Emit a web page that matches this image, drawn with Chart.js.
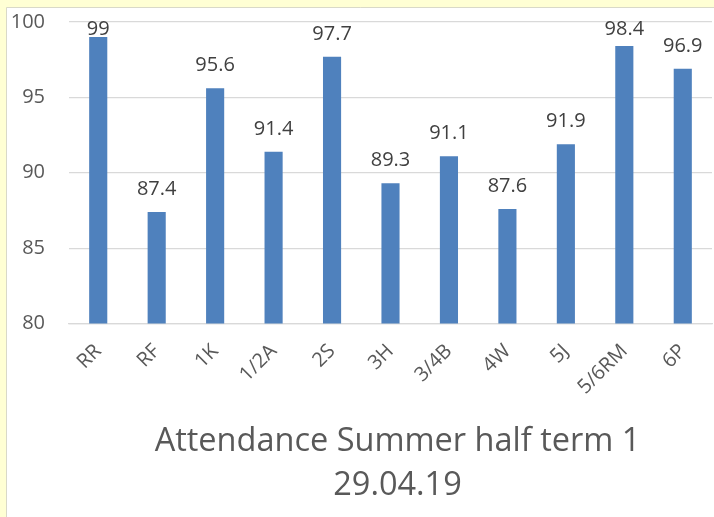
<!DOCTYPE html>
<html>
<head>
<meta charset="utf-8">
<script src="https://cdn.jsdelivr.net/npm/chart.js@4"></script>
<style>
  html, body { margin: 0; padding: 0; background: #fff; }
  #wrap { width: 714px; height: 517px; position: relative; }
</style>
</head>
<body>
<div id="wrap"><canvas id="c" width="714" height="517"></canvas></div>
<script>
const categories = ["RR", "RF", "1K", "1/2A", "2S", "3H", "3/4B", "4W", "5J", "5/6RM", "6P"];
const attendance = [99, 87.4, 95.6, 91.4, 97.7, 89.3, 91.1, 87.6, 91.9, 98.4, 96.9];
const yTicks = [80, 85, 90, 95, 100];
const titleLines = ["Attendance Summer half term 1", "29.04.19"];

const FONT = "'Open Sans', 'Liberation Sans', sans-serif";

const framePlugin = {
  id: 'frame',
  beforeDraw(chart) {
    const ctx = chart.ctx;
    ctx.save();
    ctx.fillStyle = '#FFFFD4';
    ctx.fillRect(0, 0, chart.width, chart.height);
    ctx.fillStyle = '#FFFFFF';
    ctx.fillRect(7, 8, chart.width - 7, chart.height - 8);
    ctx.strokeStyle = '#D9D9C8';
    ctx.lineWidth = 1;
    ctx.beginPath();
    ctx.moveTo(6.5, chart.height);
    ctx.lineTo(6.5, 7.5);
    ctx.lineTo(chart.width, 7.5);
    ctx.stroke();
    ctx.restore();
  }
};

const titleShiftPlugin = {
  id: 'titleShift',
  afterLayout(chart) {
    const tb = chart.titleBlock;
    if (tb) { tb.left += 7; tb.right += 7; }
  }
};

const labelPlugin = {
  id: 'barLabels',
  afterDatasetsDraw(chart) {
    const ctx = chart.ctx;
    const meta = chart.getDatasetMeta(0);
    const ds = chart.data.datasets[0];
    ctx.save();
    ctx.font = "20px " + FONT;
    ctx.fillStyle = '#404040';
    ctx.textAlign = 'center';
    ctx.textBaseline = 'alphabetic';
    meta.data.forEach((bar, i) => {
      const y = Math.max(bar.y - 17, chart.chartArea.top + 13);
      ctx.fillText(String(ds.data[i]), bar.x, y);
    });
    ctx.restore();
  }
};

new Chart(document.getElementById('c'), {
  type: 'bar',
  data: {
    labels: categories,
    datasets: [{
      data: attendance,
      backgroundColor: '#4F81BD',
      borderWidth: 0,
      barPercentage: 0.31,
      categoryPercentage: 1.0
    }]
  },
  options: {
    responsive: false,
    animation: false,
    devicePixelRatio: 1,
    layout: { padding: { top: 22, right: 2, bottom: 0, left: 0 } },
    plugins: {
      legend: { display: false },
      tooltip: { enabled: false },
      title: {
        display: true,
        text: titleLines,
        position: 'bottom',
        fullSize: false,
        color: '#595959',
        font: { family: FONT, size: 32.5, weight: 'normal', lineHeight: 1.33 },
        padding: { top: 17, bottom: 10 }
      }
    },
    scales: {
      x: {
        grid: { display: false },
        border: { display: true, color: '#D9D9D9', width: 1.3 },
        ticks: {
          color: '#595959',
          font: { family: FONT, size: 20 },
          minRotation: 45,
          maxRotation: 45,
          padding: 8,
          autoSkip: false
        },
        afterFit(scale) { scale.height = 80; }
      },
      y: {
        min: 80,
        max: 100,
        afterBuildTicks(scale) { scale.ticks = yTicks.map(v => ({ value: v })); },
        grid: { color: '#D9D9D9', lineWidth: 1.3, drawTicks: false },
        border: { display: false },
        ticks: {
          color: '#595959',
          font: { family: FONT, size: 20 },
          padding: 24
        },
        afterFit(scale) {
          scale.width = 69;
          scale.paddingTop = 0;
          scale.paddingBottom = 0;
        }
      }
    }
  },
  plugins: [framePlugin, titleShiftPlugin, labelPlugin]
});
</script>
</body>
</html>
